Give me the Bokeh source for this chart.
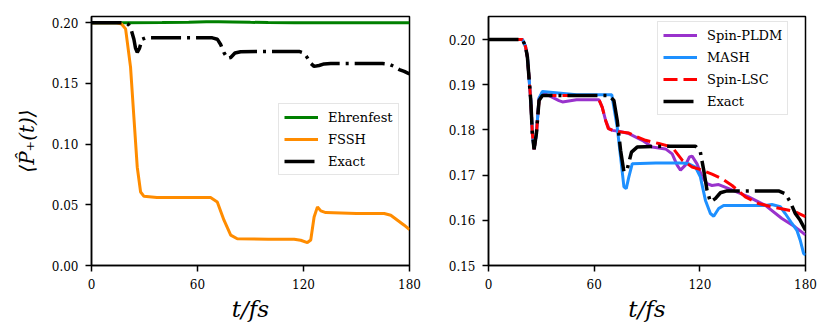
from bokeh.plotting import figure
from bokeh.layouts import row
from bokeh.models import FixedTicker, NumeralTickFormatter, Legend, LegendItem, Range1d
from bokeh.embed import file_html
from bokeh.resources import INLINE

# ---------------- data ----------------
t_ehr = [0, 20, 40, 55, 65, 72, 80, 90, 100, 115, 140, 160, 180]
p_ehr = [0.2, 0.2, 0.2002, 0.2005, 0.2008, 0.2009, 0.2007, 0.2004, 0.2002, 0.2, 0.2, 0.2, 0.2]

t_fssh = [0, 14.5, 17, 19.3, 22.1, 24, 25.9, 27.8, 29.7, 37, 50, 67.4, 71.2, 75, 78.8, 82.5,
          100, 114.7, 118.4, 122.2, 124.1, 126, 127.9, 129.8, 132.6, 150, 165.7, 169.4, 173.2, 177, 180]
p_fssh = [0.2, 0.2, 0.199, 0.195, 0.1635, 0.122, 0.081, 0.0606, 0.057, 0.056, 0.056, 0.056, 0.0524,
          0.0373, 0.025, 0.022, 0.0217, 0.0217, 0.0208, 0.0189, 0.021, 0.040, 0.0483, 0.045, 0.0436,
          0.0428, 0.0428, 0.0414, 0.0373, 0.0332, 0.0296]

t_exact = [0, 19.3, 21, 22.1, 24, 24.9, 25.9, 27.2, 28.7, 30.6, 50, 68.4, 71.2, 73.1, 75, 76.9, 78.8,
           81.2, 84.4, 100, 117.5, 120.3, 122.2, 124.1, 126, 128.8, 131.7, 135.4, 150, 164.7, 168.5,
           171.3, 174.2, 177, 180]
p_exact = [0.2, 0.2, 0.1985, 0.1961, 0.1865, 0.1792, 0.1757, 0.1792, 0.1865, 0.1876, 0.1876, 0.1876,
           0.1865, 0.1821, 0.1755, 0.1707, 0.1714, 0.1751, 0.1762, 0.1764, 0.1764, 0.1751, 0.1711,
           0.1666, 0.1641, 0.1648, 0.1661, 0.1665, 0.1665, 0.1665, 0.1659, 0.1641, 0.1615, 0.1600, 0.1578]

t_mash = [0, 19.3, 21, 22.1, 24, 24.9, 25.9, 27.2, 28.7, 30.6, 50, 70, 73.1, 75, 76.9, 78.2, 79.7, 81.6,
          95, 110, 113.7, 117.5, 120.3, 123.2, 126, 127.9, 130.7, 133.5, 145, 157.2, 160.9, 165.7,
          168.5, 172.3, 175.1, 177, 178.9, 180]
p_mash = [0.2, 0.2, 0.1985, 0.1961, 0.1865, 0.1792, 0.1757, 0.1792, 0.1870, 0.1885, 0.1878, 0.1878,
          0.1806, 0.174, 0.1674, 0.167, 0.1696, 0.1725, 0.1727, 0.1727, 0.1725, 0.1718, 0.1696, 0.1644,
          0.1615, 0.1609, 0.1626, 0.1633, 0.1633, 0.1633, 0.1635, 0.163, 0.1615, 0.1593, 0.1578,
          0.1556, 0.1527, 0.1523]

t_pldm = [0, 19.3, 21, 22.1, 24, 24.9, 25.9, 27.2, 28.7, 30.6, 34.4, 40, 42, 50, 62.7, 64.6, 66.5, 68.4,
          70.3, 74, 79.7, 87.3, 92.9, 100.5, 104.3, 107.1, 109, 111.8, 114.1, 115.6, 118.4, 121.3,
          124.1, 126.9, 130.7, 136.4, 147.7, 157.2, 166.6, 174.2, 178.9, 180]
p_pldm = [0.2, 0.2, 0.1985, 0.1961, 0.1865, 0.1792, 0.1757, 0.1792, 0.1870, 0.1882, 0.1876, 0.1865,
          0.1862, 0.1867, 0.1867, 0.185, 0.1821, 0.1803, 0.1799, 0.1797, 0.1792, 0.1777, 0.1762, 0.1758,
          0.1747, 0.1722, 0.1711, 0.1722, 0.174, 0.1742, 0.1725, 0.1696, 0.1681, 0.1677, 0.1679, 0.167,
          0.1652, 0.1633, 0.1604, 0.1585, 0.1571, 0.1568]

t_lsc = [0, 19.3, 21, 22.1, 24, 24.9, 25.9, 27.2, 28.7, 30.6, 50, 61.8, 64.6, 66.5, 68, 72.2, 79.7, 83.5,
         89.2, 96.7, 104.3, 110, 115.6, 121.3, 126.9, 132.6, 138.3, 145.8, 153.4, 160.9, 168.5, 174.2, 180]
p_lsc = [0.2, 0.2, 0.1985, 0.1961, 0.1865, 0.1792, 0.1757, 0.1792, 0.1865, 0.1876, 0.1876, 0.1876,
         0.185, 0.1821, 0.1803, 0.1797, 0.1793, 0.1786, 0.1777, 0.177, 0.1762, 0.1733, 0.1718, 0.1711,
         0.1702, 0.1692, 0.1677, 0.1652, 0.1637, 0.163, 0.1624, 0.1619, 0.1608]

x_ticks = [0, 60, 120, 180]
y_ticks_left = [0.0, 0.05, 0.10, 0.15, 0.20]
y_ticks_right = [0.15, 0.16, 0.17, 0.18, 0.19, 0.20]

FONT = "DejaVu Serif"
EXACT_DASH = "30 6 3 6"


def style(p, yticks, xlabel, ylabel):
    p.xgrid.visible = False
    p.ygrid.visible = False
    p.outline_line_color = "black"
    p.outline_line_width = 1.5
    p.background_fill_color = "white"
    p.border_fill_color = "white"
    for ax in (p.xaxis[0], p.yaxis[0]):
        ax.axis_line_color = "black"
        ax.axis_line_width = 1.5
        ax.major_tick_line_width = 1.5
        ax.major_tick_out = 6
        ax.major_tick_in = 0
        ax.minor_tick_line_color = None
        ax.major_label_text_font = FONT
        ax.major_label_text_font_size = "12px"
        ax.major_label_text_color = "black"
        ax.major_label_standoff = 7
        ax.axis_label_text_font = FONT
        ax.axis_label_text_color = "black"
        ax.axis_label_text_font_style = "italic"
    p.xaxis[0].ticker = FixedTicker(ticks=x_ticks)
    p.yaxis[0].ticker = FixedTicker(ticks=yticks)
    p.yaxis[0].formatter = NumeralTickFormatter(format="0.00")
    p.xaxis[0].axis_label = xlabel
    p.xaxis[0].axis_label_text_font_size = "23px"
    p.xaxis[0].axis_label_standoff = 4
    if ylabel:
        p.yaxis[0].axis_label = ylabel
        p.yaxis[0].axis_label_text_font_size = "20px"
        p.yaxis[0].axis_label_standoff = 10


def make_legend(p, items, loc):
    leg = Legend(items=items, location=loc)
    leg.label_text_font = FONT
    leg.label_text_font_size = "13px"
    leg.label_text_color = "black"
    leg.padding = 5
    leg.margin = 0
    leg.spacing = 6
    leg.glyph_width = 34
    leg.glyph_height = 16
    leg.label_height = 16
    leg.label_standoff = 10
    leg.border_line_color = "#cccccc"
    leg.border_line_width = 1.5
    leg.background_fill_color = "white"
    leg.background_fill_alpha = 0.9
    p.add_layout(leg, "center")


# ---------------- left panel ----------------
p1 = figure(frame_width=318, frame_height=249, min_border_left=91, min_border_right=26,
            min_border_top=16, min_border_bottom=59,
            x_range=Range1d(0, 180), y_range=Range1d(0, 0.2052),
            output_backend="svg", toolbar_location=None)
r_ehr = p1.line(t_ehr, p_ehr, line_color="green", line_width=3)
r_fssh = p1.line(t_fssh, p_fssh, line_color="darkorange", line_width=3)
r_ex1 = p1.line(t_exact, p_exact, line_color="black", line_width=3.5, line_dash=EXACT_DASH)
style(p1, y_ticks_left, "t/fs", "⟨P̂₊(t)⟩")
make_legend(p1, [LegendItem(label="Ehrenfest", renderers=[r_ehr]),
                 LegendItem(label="FSSH", renderers=[r_fssh]),
                 LegendItem(label="Exact", renderers=[r_ex1])], (187, 90))

# ---------------- right panel ----------------
p2 = figure(frame_width=317, frame_height=249, min_border_left=53, min_border_right=12,
            min_border_top=16, min_border_bottom=59,
            x_range=Range1d(0, 180), y_range=Range1d(0.15, 0.2051),
            output_backend="svg", toolbar_location=None)
r_pldm = p2.line(t_pldm, p_pldm, line_color="darkorchid", line_width=3)
r_mash = p2.line(t_mash, p_mash, line_color="dodgerblue", line_width=3)
r_lsc = p2.line(t_lsc, p_lsc, line_color="red", line_width=3, line_dash="14 6")
r_ex2 = p2.line(t_exact, p_exact, line_color="black", line_width=3.5, line_dash=EXACT_DASH)
style(p2, y_ticks_right, "t/fs", None)
make_legend(p2, [LegendItem(label="Spin-PLDM", renderers=[r_pldm]),
                 LegendItem(label="MASH", renderers=[r_mash]),
                 LegendItem(label="Spin-LSC", renderers=[r_lsc]),
                 LegendItem(label="Exact", renderers=[r_ex2])], (169, 150))

layout = row(p1, p2, spacing=0)
open("out.html", "w").write(file_html(layout, INLINE))
